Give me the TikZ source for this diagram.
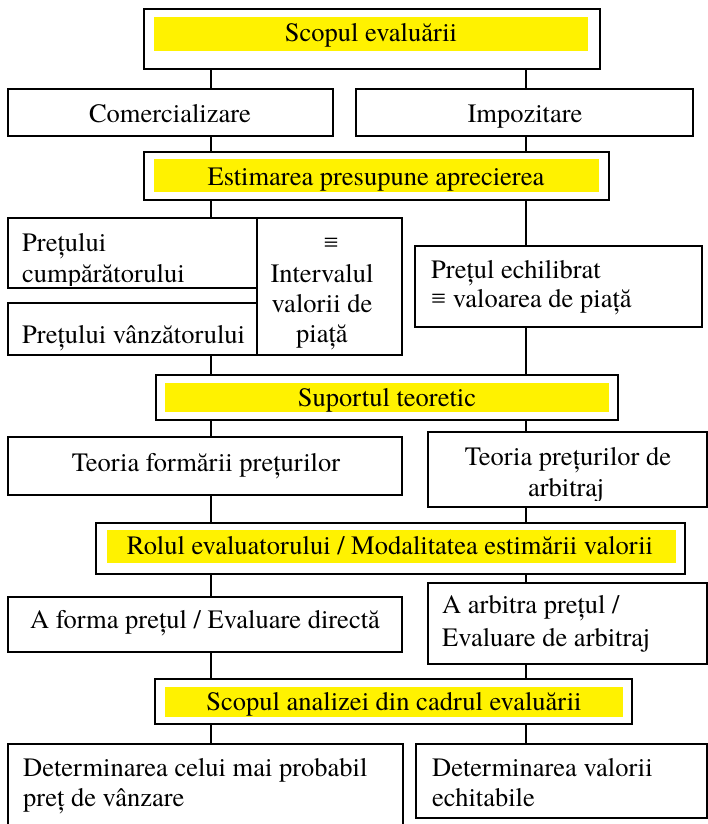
\documentclass[tikz,border=0pt]{standalone}
\usepackage{fontspec}
\setmainfont{texgyretermes-regular.otf}
\newfontfamily\symfont{Liberation Serif}
\newcommand\myfs{\fontsize{26.5}{30}\selectfont}
\newcommand\eqv{{\symfont ≡}}
\begin{document}
\begin{tikzpicture}[x=1pt,y=-1pt,
  box/.style={draw=black, line width=1.1pt, fill=white, rectangle, inner sep=0pt, outer sep=0pt, anchor=north west},
  band/.style={fill=yellow},
  tl/.style={anchor=base west, inner sep=0pt, font=\myfs},
  tc/.style={anchor=base, inner sep=0pt, font=\myfs},
  link/.style={draw=black, line width=1.1pt}]
\clip (0,0) rectangle (708,824);
\fill[white] (0,0) rectangle (708,824);
\coordinate (colL) at (211,0);
\coordinate (colR) at (526,0);

% boxes
\node[box, minimum width=456pt, minimum height=60pt] (scop) at (144,9) {};
\node[box, minimum width=325pt, minimum height=47pt] (com) at (8,89) {};
\node[box, minimum width=337pt, minimum height=47pt] (imp) at (356,89) {};
\node[box, minimum width=465pt, minimum height=48pt] (est) at (144,152) {};
\node[box, minimum width=257pt, minimum height=70pt] (pc) at (8,218) {};
\node[box, minimum width=257pt, minimum height=52pt] (pv) at (8,303) {};
\node[box, minimum width=145pt, minimum height=137pt] (iv) at (257,218) {};
\node[box, minimum width=287pt, minimum height=81pt] (pe) at (415,246) {};
\node[box, minimum width=462pt, minimum height=45pt] (sup) at (156,375) {};
\node[box, minimum width=394pt, minimum height=58pt] (tf) at (8,437) {};
\node[box, minimum width=279pt, minimum height=75pt] (tp) at (428,432) {};
\node[box, minimum width=589pt, minimum height=51pt] (rol) at (96,523) {};
\node[box, minimum width=394pt, minimum height=55pt] (af) at (8,597) {};
\node[box, minimum width=279pt, minimum height=81pt] (aa) at (428,583) {};
\node[box, minimum width=477pt, minimum height=45pt] (san) at (155,679) {};
\node[box, minimum width=395pt, minimum height=90pt] (d1) at (8,744) {};
\node[box, minimum width=291pt, minimum height=74pt] (d2) at (416,744) {};

% yellow bands
\fill[band] (154,17) rectangle (588,51);
\fill[band] (154,159) rectangle (599,192);
\fill[band] (165,383) rectangle (609,412);
\fill[band] (107,530) rectangle (676,563);
\fill[band] (165,687) rectangle (623,717);

% connectors
\draw[link] (scop.south -| colL) -- (com.north -| colL);
\draw[link] (scop.south -| colR) -- (imp.north -| colR);
\draw[link] (com.south -| colL) -- (est.north -| colL);
\draw[link] (imp.south -| colR) -- (est.north -| colR);
\draw[link] (est.south -| colL) -- (pc.north -| colL);
\draw[link] (est.south -| colR) -- (pe.north -| colR);
\draw[link] (pv.south -| colL) -- (sup.north -| colL);
\draw[link] (pe.south -| colR) -- (sup.north -| colR);
\draw[link] (sup.south -| colL) -- (tf.north -| colL);
\draw[link] (sup.south -| colR) -- (tp.north -| colR);
\draw[link] (tf.south -| colL) -- (rol.north -| colL);
\draw[link] (tp.south -| colR) -- (rol.north -| colR);
\draw[link] (rol.south -| colL) -- (af.north -| colL);
\draw[link] (rol.south -| colR) -- (aa.north -| colR);
\draw[link] (af.south -| colL) -- (san.north -| colL);
\draw[link] (aa.south -| colR) -- (san.north -| colR);
\draw[link] (san.south -| colL) -- (d1.north -| colL);
\draw[link] (san.south -| colR) -- (d2.north -| colR);

% texts
\node[tc] (t1) at (371,42) {Scopul evaluării};
\node[tc] (t2) at (170,122) {Comercializare};
\node[tc] (t3) at (525,122) {Impozitare};
\node[tc] (t4) at (376,185) {Estimarea presupune aprecierea};
\node[tl] (t5) at (22,251) {Prețului};
\begin{scope}
\clip (8,218) rectangle (265,285.5);
\node[tl] (t6) at (22,282) {cumpărătorului};
\end{scope}
\node[tl] (t7) at (22,343) {Prețului vânzătorului};
\node[tc] (t8) at (331,251) {\eqv};
\node[tc] (t9) at (322,282) {Intervalul};
\node[tc] (t10) at (322,312) {valorii de};
\node[tc] (t11) at (322,342) {piață};
\node[tl] (t12) at (431,278) {Prețul echilibrat};
\node[tl] (t13) at (431,307) {\eqv{} valoarea de piață};
\node[tc] (t14) at (387,406) {Suportul teoretic};
\node[tc] (t15) at (206,471) {Teoria formării prețurilor};
\node[tc] (t16) at (568,465) {Teoria prețurilor de};
\begin{scope}
\clip (428,432) rectangle (707,500);
\node[tc] (t17) at (566,496) {arbitraj};
\end{scope}
\node[tc] (t18) at (390,554) {Rolul evaluatorului / Modalitatea estimării valorii};
\node[tc] (t19) at (205,628) {A forma prețul / Evaluare directă};
\node[tl] (t20) at (442,613) {A arbitra prețul /};
\node[tl] (t21) at (442,646) {Evaluare de arbitraj};
\node[tc] (t22) at (394,710) {Scopul analizei din cadrul evaluării};
\node[tl] (t23) at (23,776) {Determinarea celui mai probabil};
\node[tl] (t24) at (23,806) {preț de vânzare};
\node[tl] (t25) at (432,776) {Determinarea valorii};
\node[tl] (t26) at (432,806) {echitabile};
\end{tikzpicture}
\end{document}
